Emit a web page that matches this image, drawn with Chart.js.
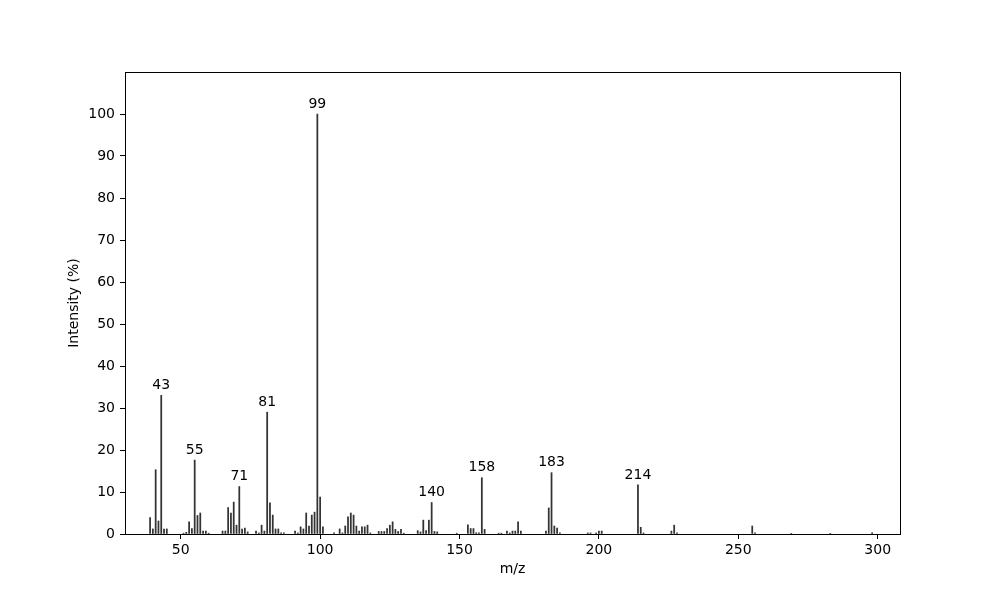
<!DOCTYPE html>
<html>
<head>
<meta charset="utf-8">
<script src="https://cdn.jsdelivr.net/npm/chart.js@4/dist/chart.umd.min.js"></script>
<style>
  body { margin: 0; background: #fff; }
</style>
</head>
<body>
<canvas id="spectrum" width="1000" height="600"></canvas>
<script>
// mass spectrum
var mz = [39, 40, 41, 42, 43, 44, 45, 51, 52, 53, 54, 55, 56, 57, 58, 59, 60,
  65, 66, 67, 68, 69, 70, 71, 72, 73, 74, 77, 78, 79, 80, 81, 82, 83, 84, 85, 86, 87,
  91, 92, 93, 94, 95, 96, 97, 98, 99, 100, 101, 105, 107, 108, 109, 110, 111, 112,
  113, 114, 115, 116, 117, 118, 121, 122, 123, 124, 125, 126, 127, 128, 129, 130,
  135, 136, 137, 138, 139, 140, 141, 142, 149, 153, 154, 155, 156, 157, 158, 159,
  164, 165, 167, 168, 169, 170, 171, 172, 181, 182, 183, 184, 185, 186,
  196, 197, 199, 200, 201, 214, 215, 216, 226, 227, 228, 255, 256, 269, 283, 298];
var intensity = [3.9, 1.2, 15.3, 3.1, 33.0, 1.2, 1.2, 0.2, 0.4, 2.9, 1.3, 17.6, 4.4, 5.0, 0.7, 0.7, 0.2,
  0.7, 0.7, 6.3, 5.0, 7.6, 2.1, 11.3, 1.2, 1.4, 0.5, 0.7, 0.25, 2.1, 0.7, 29.0, 7.4, 4.5, 1.2, 1.2, 0.25, 0.25,
  0.7, 0.25, 1.7, 1.2, 5.0, 1.9, 4.5, 5.2, 100, 8.8, 1.7, 0.25, 1.2, 0.25, 1.9, 4.1, 5.0, 4.5,
  1.9, 0.7, 1.7, 1.7, 2.1, 0.25, 0.6, 0.6, 0.6, 1.3, 2.1, 2.9, 1.1, 0.6, 1.1, 0.2,
  0.8, 0.5, 3.3, 0.8, 3.3, 7.5, 0.6, 0.5, 0.2, 2.2, 1.3, 1.3, 0.3, 0.3, 13.4, 1.1,
  0.2, 0.2, 0.7, 0.25, 0.7, 0.7, 2.9, 0.7, 0.7, 6.2, 14.6, 1.9, 1.4, 0.25,
  0.25, 0.25, 0.25, 0.7, 0.7, 11.7, 1.6, 0.25, 0.7, 2.1, 0.25, 1.9, 0.25, 0.15, 0.15, 0.3];
var labeledPeaks = [43, 55, 71, 81, 99, 140, 158, 183, 214];
var xTicks = [50, 100, 150, 200, 250, 300];
var yTicks = [0, 10, 20, 30, 40, 50, 60, 70, 80, 90, 100];

var font = { family: 'DejaVu Sans', size: 14 };

// box round the plot, like matplotlib
var frame = {
  id: 'frame',
  afterDraw: function(chart) {
    var a = chart.chartArea, ctx = chart.ctx;
    ctx.save();
    ctx.strokeStyle = '#000';
    ctx.lineWidth = 1;
    ctx.strokeRect(Math.round(a.left) + 0.5, Math.round(a.top) + 0.5,
      Math.round(a.right - a.left), Math.round(a.bottom - a.top));
    ctx.restore();
  }
};

// numbers over the main peaks
var peakLabels = {
  id: 'peakLabels',
  afterDatasetsDraw: function(chart) {
    var ctx = chart.ctx, xs = chart.scales.x, ys = chart.scales.y;
    ctx.save();
    ctx.font = '14px "DejaVu Sans"';
    ctx.fillStyle = '#000';
    ctx.textAlign = 'center';
    ctx.textBaseline = 'bottom';
    labeledPeaks.forEach(function(m) {
      var i = mz.indexOf(m);
      ctx.fillText(String(m), xs.getPixelForValue(m), ys.getPixelForValue(intensity[i]) - 3);
    });
    ctx.restore();
  }
};

var ctx = document.getElementById('spectrum').getContext('2d');
var chart = new Chart(ctx, {
  type: 'bar',
  data: {
    datasets: [{
      data: mz.map(function(m, i) { return { x: m, y: intensity[i] }; }),
      backgroundColor: '#333333',
      borderWidth: 0,
      barThickness: 1.1
    }]
  },
  options: {
    responsive: false,
    animation: false,
    devicePixelRatio: 1,
    layout: { padding: { left: 0, top: 72, right: 100, bottom: 20 } },
    plugins: {
      legend: { display: false },
      tooltip: { enabled: false }
    },
    scales: {
      x: {
        type: 'linear',
        min: 30,
        max: 308,
        offset: false,
        afterBuildTicks: function(s) { s.ticks = xTicks.map(function(v) { return { value: v }; }); },
        afterFit: function(s) { s.height = 46; },
        grid: { offset: false, drawOnChartArea: false, tickLength: 5, tickColor: '#000' },
        border: { display: false },
        ticks: { color: '#000', font: font, padding: 3, maxRotation: 0 },
        title: { display: true, text: 'm/z', color: '#000', font: font, padding: { top: 0, bottom: 2 } }
      },
      y: {
        min: 0,
        max: 110,
        afterBuildTicks: function(s) { s.ticks = yTicks.map(function(v) { return { value: v }; }); },
        afterFit: function(s) { s.width = 125; },
        grid: { drawOnChartArea: false, tickLength: 5, tickColor: '#000' },
        border: { display: false },
        ticks: { color: '#000', font: font, padding: 5 },
        title: { display: true, text: 'Intensity (%)', color: '#000', font: font, padding: { top: 66, bottom: 0 } }
      }
    }
  },
  plugins: [frame, peakLabels]
});
</script>
</body>
</html>
